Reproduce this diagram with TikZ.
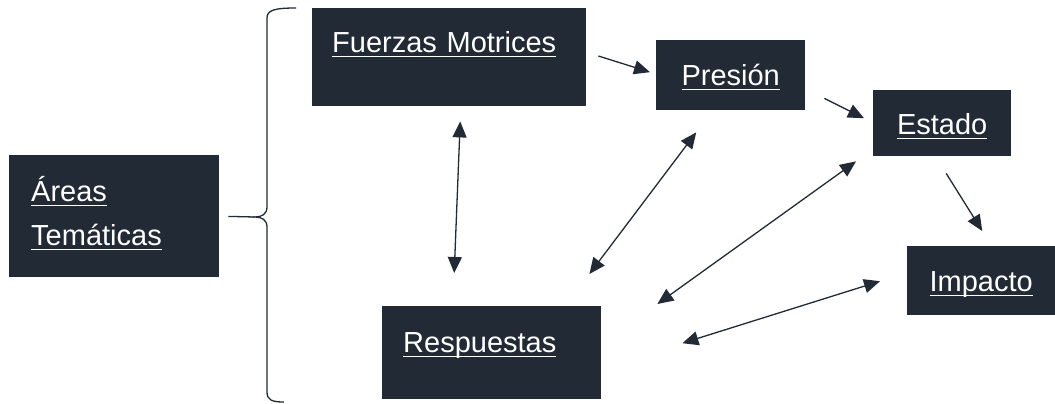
\documentclass[tikz,border=0pt]{standalone}
\usepackage{fontspec}
\setmainfont{Liberation Sans}
\usetikzlibrary{arrows.meta,calc}
\definecolor{navy}{HTML}{222A35}
\newcommand{\enlace}[1]{\leavevmode\setbox0\hbox{#1}\rlap{\rule[-5pt]{\wd0}{1.6pt}}\box0}

\begin{document}
\begin{tikzpicture}[x=1pt, y=-1pt,
        main/.style = {fill=navy, text=white, inner sep=0pt, anchor=north west, font=\fontsize{29}{44}\selectfont},
        arr/.style = {draw=navy, line width=1.3pt, -{Triangle[length=16pt,width=14pt]}},
        dbl/.style = {arr, {Triangle[length=16pt,width=14pt]}-{Triangle[length=16pt,width=14pt]}}]
            \useasboundingbox (0,0) rectangle (1055,404);
            \node[main, text width=166pt, align=left, inner xsep=22pt, text height=46pt, text depth=76pt] (areas) at (9,155) {\enlace{Áreas}\\\enlace{Temáticas}};
            \node[main, text width=234pt, align=left, inner xsep=20pt, text height=44pt, text depth=54pt] (fuerzas) at (312,8) {\enlace{Fuerzas Motrices}};
            \node[main, minimum width=149pt, text height=45pt, text depth=25pt] (presion) at (656,40) {\enlace{Presión}};
            \node[main, minimum width=138pt, text height=44pt, text depth=22pt] (estado) at (873,90) {\enlace{Estado}};
            \node[main, minimum width=148pt, text height=45pt, text depth=24pt] (impacto) at (907,246) {\enlace{Impacto}};
            \node[main, text width=177pt, align=left, inner xsep=21pt, text height=46pt, text depth=47pt] (respuestas) at (382,306) {\enlace{Respuestas}};

            % llave
            \coordinate (tip) at (255,217);
            \draw[navy, line width=1.3pt] (296,8) .. controls (275,8) and (267,10) .. (267,18) -- (267,207)
                .. controls (267,214) and (262,217) .. (tip) .. controls (262,217) and (267,220) .. (267,227)
                -- (267,392) .. controls (267,400) and (272,402) .. (284,402);
            \draw[navy, line width=1.3pt, shorten <=9pt] (areas.east) -- (tip);

            \draw[arr] ($(fuerzas.north east)+(12,48)$) -- ($(presion.west)+(-6,-3)$);
            \draw[arr] ($(presion.south east)+(19,-12)$) -- ($(estado.west)+(-9,-5)$);
            \draw[arr] ($(estado.south)+(4,17)$) -- ($(impacto.north)+(1,-15)$);
            \draw[dbl] ($(fuerzas.south)+(11,15)$) -- ($(respuestas.north)+(-37.5,-33)$);
            \draw[dbl] ($(presion.south)+(-34.5,22)$) -- ($(respuestas.north east)+(-12,-32)$);
            \draw[dbl] ($(estado.south west)+(-17,5)$) -- ($(respuestas.north east)+(56,-2)$);
            \draw[dbl] ($(impacto.west)+(-27,0.5)$) -- ($(respuestas.east)+(81,-9.5)$);
        \end{tikzpicture}
\end{document}
